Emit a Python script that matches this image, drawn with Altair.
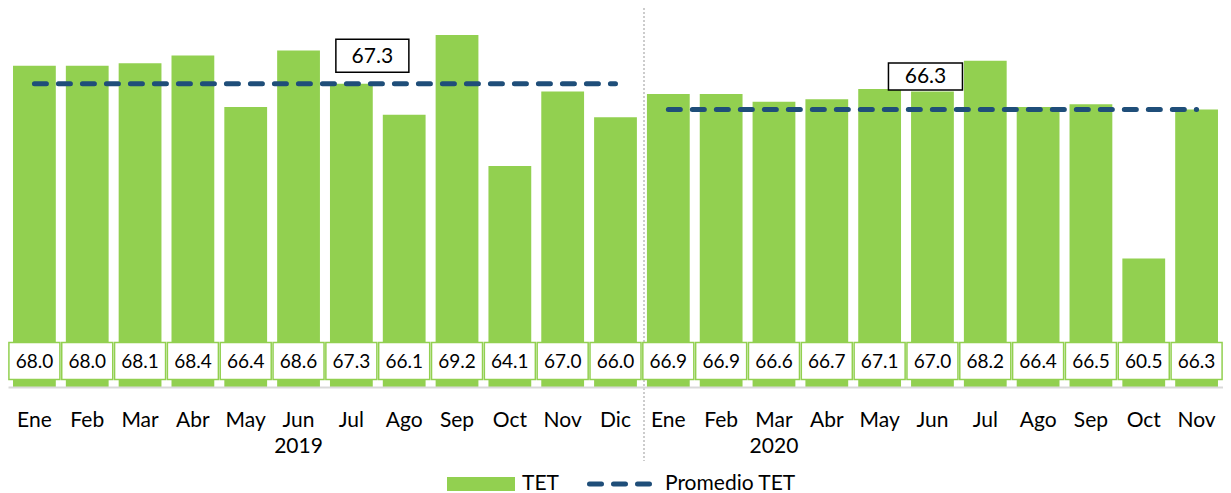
import altair as alt
import pandas as pd

# ---- data ----
months = ["Ene", "Feb", "Mar", "Abr", "May", "Jun", "Jul", "Ago", "Sep", "Oct", "Nov", "Dic",
          "Ene", "Feb", "Mar", "Abr", "May", "Jun", "Jul", "Ago", "Sep", "Oct", "Nov"]
years = [2019] * 12 + [2020] * 11
tet = [68.0, 68.0, 68.1, 68.4, 66.4, 68.6, 67.3, 66.1, 69.2, 64.1, 67.0, 66.0,
       66.9, 66.9, 66.6, 66.7, 67.1, 67.0, 68.2, 66.4, 66.5, 60.5, 66.3]

avg_years = [2019, 2020]
avg_values = [67.3, 66.3]
avg_start = ["Ene 2019", "Ene 2020"]
avg_end = ["Dic 2019", "Nov 2020"]
avg_label_at = ["Jul 2019", "Jun 2020"]

year_label_at = ["Jun 2019", "Mar 2020"]
year_labels = ["2019", "2020"]

GREEN = "#92D050"
BLUE = "#1F4E79"
FONT = "Lato"

keys = [f"{m} {y}" for m, y in zip(months, years)]
df = pd.DataFrame({"key": keys, "mes": months, "anio": years, "tet": tet,
                   "lbl": [f"{v:.1f}" for v in tet]})
avg_df = pd.DataFrame({"anio": avg_years, "avg": avg_values, "start": avg_start,
                       "end": avg_end, "at": avg_label_at,
                       "lbl": [f"{v:.1f}" for v in avg_values]})
yl_df = pd.DataFrame({"at": year_label_at, "lbl": year_labels})

W, H = 1215, 379
xscale = alt.Scale(domain=keys, paddingInner=0.19, paddingOuter=0.095)
yscale = alt.Scale(domain=[55.5, 70.25], zero=False, nice=False)

X = alt.X("key:N", sort=keys, scale=xscale, title=None,
          axis=alt.Axis(labelExpr="split(datum.value, ' ')[0]", labelAngle=0,
                        ticks=False, labelPadding=22, labelFontSize=21,
                        labelFont=FONT, labelColor="black", zindex=1,
                        domainColor="#D9D9D9", domainWidth=2, grid=False))
Y = alt.Y("tet:Q", scale=yscale, axis=None)

base = alt.Chart(df)
bars = base.mark_bar(color=GREEN, clip=True).encode(x=X, y=Y)

box_path = "M-1,-0.725H1V0.725H-1Z"
lbl_boxes = base.mark_point(shape=box_path, size=2601, filled=True, fill="white",
                            stroke=GREEN, strokeWidth=1.5, opacity=1).encode(
    x=alt.X("key:N", sort=keys, scale=xscale), y=alt.value(353))
lbl_text = base.mark_text(font=FONT, fontSize=19, color="black", baseline="middle").encode(
    x=alt.X("key:N", sort=keys, scale=xscale), y=alt.value(354), text="lbl:N")

sep = alt.Chart(pd.DataFrame({"a": [0]})).mark_rule(
    color="#999999", strokeDash=[2, 2], strokeWidth=1).encode(
    x=alt.value(636), y=alt.value(0), y2=alt.value(453))

avg_rule = alt.Chart(avg_df).mark_rule(color=BLUE, strokeWidth=5, strokeDash=[12, 12],
                                       strokeCap="round").encode(
    x=alt.X("start:N", sort=keys, scale=xscale), x2="end:N",
    y=alt.Y("avg:Q", scale=yscale))

avg_layers = []
box_specs = {2019: (21, -28, 73, 33), 2020: (-7, -33, 74, 27)}
for yr in avg_years:
    dx, dy, bw, bh = box_specs[yr]
    hh = bh / bw
    path = f"M-1,-{hh:.4f}H1V{hh:.4f}H-1Z"
    sub = alt.Chart(avg_df).transform_filter(alt.datum.anio == yr)
    avg_layers.append(sub.mark_point(shape=path, size=bw * bw, filled=True, fill="white",
                                     stroke="black", strokeWidth=1.5, opacity=1,
                                     xOffset=dx, yOffset=dy).encode(
        x=alt.X("at:N", sort=keys, scale=xscale), y=alt.Y("avg:Q", scale=yscale)))
    avg_layers.append(sub.mark_text(font=FONT, fontSize=21, color="black", baseline="middle",
                                    xOffset=dx, yOffset=dy + 1).encode(
        x=alt.X("at:N", sort=keys, scale=xscale), y=alt.Y("avg:Q", scale=yscale),
        text="lbl:N"))

year_text = alt.Chart(yl_df).mark_text(font=FONT, fontSize=21, color="black",
                                       baseline="middle").encode(
    x=alt.X("at:N", sort=keys, scale=xscale), y=alt.value(439), text="lbl:N")

# legend
one = pd.DataFrame({"a": [0]})
leg_rect = alt.Chart(one).mark_rect(color=GREEN).encode(
    x=alt.value(439), x2=alt.value(507), y=alt.value(469), y2=alt.value(483))
leg_t1 = alt.Chart(one).mark_text(font=FONT, fontSize=21, align="left", baseline="middle",
                                  color="black").encode(
    x=alt.value(514), y=alt.value(476), text=alt.value("TET"))
leg_line = alt.Chart(one).mark_rule(color=BLUE, strokeWidth=5, strokeDash=[12, 12],
                                    strokeCap="round").encode(
    x=alt.value(581.5), x2=alt.value(642), y=alt.value(476))
leg_t2 = alt.Chart(one).mark_text(font=FONT, fontSize=21, align="left", baseline="middle",
                                  color="black").encode(
    x=alt.value(657), y=alt.value(476), text=alt.value("Promedio TET"))

chart = alt.layer(bars, sep, avg_rule, lbl_boxes, lbl_text, *avg_layers, year_text,
                  leg_rect, leg_t1, leg_line, leg_t2).properties(
    width=W, height=H, padding={"left": 0, "top": 0, "right": 0, "bottom": 106},
    autosize=alt.AutoSizeParams(type="none"),
).configure_view(stroke=None)

chart.save("out.html", embed_options={"renderer": "svg", "actions": False})
